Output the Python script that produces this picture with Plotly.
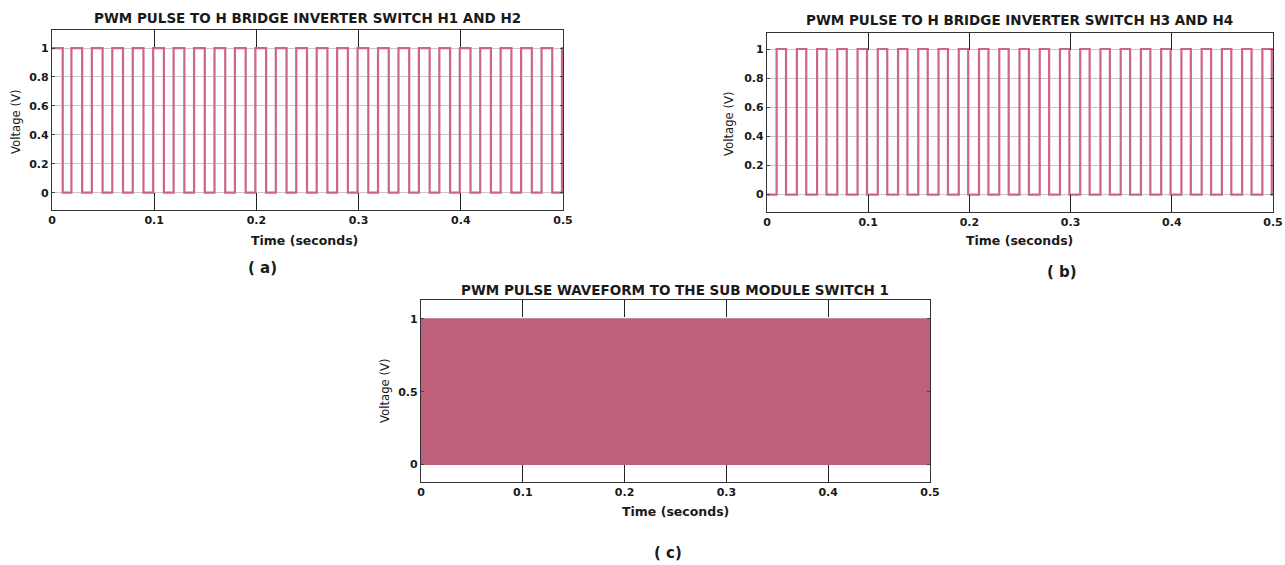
import plotly.graph_objects as go

W, H = 1285, 565

# ---------------- data ----------------
time_ticks = [0, 0.1, 0.2, 0.3, 0.4, 0.5]
time_tick_labels = ["0", "0.1", "0.2", "0.3", "0.4", "0.5"]
volt_ticks_ab = [0, 0.2, 0.4, 0.6, 0.8, 1]
volt_tick_labels_ab = ["0", "0.2", "0.4", "0.6", "0.8", "1"]
volt_ticks_c = [0, 0.5, 1]
volt_tick_labels_c = ["0", "0.5", "1"]

# switch H1/H2: start and end times of each high pulse (s)
a_rise = [0.0, 0.019, 0.039, 0.059, 0.079, 0.099, 0.119, 0.139, 0.159, 0.179, 0.199,
          0.219, 0.239, 0.259, 0.279, 0.299, 0.319, 0.339, 0.359, 0.379, 0.399,
          0.419, 0.439, 0.459, 0.479, 0.499]
a_fall = [0.0105, 0.0295, 0.0495, 0.0695, 0.0895, 0.1095, 0.1295, 0.1495, 0.1695, 0.1895, 0.2095,
          0.2295, 0.2495, 0.2695, 0.2895, 0.3095, 0.3295, 0.3495, 0.3695, 0.3895, 0.4095,
          0.4295, 0.4495, 0.4695, 0.4895, 0.5]

# switch H3/H4
b_rise = [0.0095, 0.0295, 0.0495, 0.0695, 0.0895, 0.1095, 0.1295, 0.1495, 0.1695, 0.1895,
          0.2095, 0.2295, 0.2495, 0.2695, 0.2895, 0.3095, 0.3295, 0.3495, 0.3695, 0.3895,
          0.4095, 0.4295, 0.4495, 0.4695, 0.4895]
b_fall = [0.0188, 0.0388, 0.0588, 0.0788, 0.0988, 0.1188, 0.1388, 0.1588, 0.1788, 0.1988,
          0.2188, 0.2388, 0.2588, 0.2788, 0.2988, 0.3188, 0.3388, 0.3588, 0.3788, 0.3988,
          0.4188, 0.4388, 0.4588, 0.4788, 0.4988]

# sub module switch 1: dense PWM fills the band between 0 and 1
c_time = [0.0, 0.5]
c_low = [0.0, 0.0]
c_high = [1.0, 1.0]

LINE = "#CC6589"
FILL = "#BE607B"
TXT = "#1a1a1a"
FONT = "DejaVu Sans, Verdana, sans-serif"


def pulses(rise, fall, t_end=0.5):
    xs, ys = [], []
    if rise[0] > 0:
        xs += [0.0]
        ys += [0.0]
    for r, f in zip(rise, fall):
        xs += [r, r, f, f]
        ys += [0.0, 1.0, 1.0, 0.0] if r > 0 else [1.0, 1.0, 1.0, 0.0]
    if xs[-1] < t_end:
        xs.append(t_end)
        ys.append(ys[-1])
    return xs, ys


def px_x(p):
    return p / W


def px_y(p):
    return 1 - p / H


fig = go.Figure()

xa, ya = pulses(a_rise, a_fall)
xb, yb = pulses(b_rise, b_fall)

fig.add_trace(go.Scatter(x=xa, y=ya, mode="lines", line=dict(color=LINE, width=2.2),
                         xaxis="x", yaxis="y", showlegend=False))
fig.add_trace(go.Scatter(x=xb, y=yb, mode="lines", line=dict(color=LINE, width=2.2),
                         xaxis="x2", yaxis="y2", showlegend=False))
fig.add_trace(go.Scatter(x=c_time, y=c_low, mode="lines", line=dict(color=FILL, width=1),
                         xaxis="x3", yaxis="y3", showlegend=False))
fig.add_trace(go.Scatter(x=c_time, y=c_high, mode="lines", line=dict(color=FILL, width=1),
                         fill="tonexty", fillcolor=FILL,
                         xaxis="x3", yaxis="y3", showlegend=False))

tickfont = dict(family=FONT, size=11, color=TXT, weight="bold")


def xaxis(dom, anchor):
    return dict(domain=dom, anchor=anchor, range=[0, 0.5], tickvals=time_ticks,
                ticktext=time_tick_labels, ticks="inside", ticklen=17, tickcolor="#222",
                tickwidth=1, showline=True, linecolor="#333", linewidth=1.3, mirror="ticks",
                showgrid=False, zeroline=False, tickfont=tickfont, automargin=False)


def yaxis(dom, anchor, rng, tv, tt):
    return dict(domain=dom, anchor=anchor, range=rng, tickvals=tv, ticktext=tt,
                ticks="inside", ticklen=3, tickcolor="#444", showline=True,
                linecolor="#333", linewidth=1.3, mirror="ticks", showgrid=True,
                gridcolor="#c8c8c8", gridwidth=1, zeroline=False, tickfont=tickfont,
                automargin=False)


fig.update_layout(
    width=W, height=H, margin=dict(l=0, r=0, t=0, b=0, autoexpand=False),
    paper_bgcolor="white", plot_bgcolor="white",
    xaxis=xaxis([px_x(52), px_x(563)], "y"),
    yaxis=yaxis([px_y(210), px_y(30)], "x", [-0.12, 1.125], volt_ticks_ab, volt_tick_labels_ab),
    xaxis2=xaxis([px_x(767), px_x(1273)], "y2"),
    yaxis2=yaxis([px_y(212), px_y(33)], "x2", [-0.12, 1.11], volt_ticks_ab, volt_tick_labels_ab),
    xaxis3=xaxis([px_x(421), px_x(930)], "y3"),
    yaxis3=yaxis([px_y(482), px_y(300)], "x3", [-0.12, 1.13], volt_ticks_c, volt_tick_labels_c),
)

ann_font = dict(family=FONT, size=13.5, color=TXT, weight="bold")
lab_font = dict(family=FONT, size=12.5, color=TXT, weight="bold")
ylab_font = dict(family="Liberation Sans Narrow, DejaVu Sans Condensed, sans-serif", size=13, color=TXT)
panel_font = dict(family=FONT, size=15, color=TXT, weight="bold")

texts = [
    ("PWM PULSE TO H BRIDGE INVERTER SWITCH H1 AND H2", 307, 18, ann_font, 0),
    ("PWM PULSE TO H BRIDGE INVERTER SWITCH H3 AND H4", 1020, 20, ann_font, 0),
    ("PWM PULSE WAVEFORM TO THE SUB MODULE SWITCH 1", 675, 290, ann_font, 0),
    ("Time (seconds)", 304, 240, lab_font, 0),
    ("Time (seconds)", 1020, 241, lab_font, 0),
    ("Time (seconds)", 675, 511, lab_font, 0),
    ("Voltage (V)", 15, 122, ylab_font, -90),
    ("Voltage (V)", 729, 124, ylab_font, -90),
    ("Voltage (V)", 384, 391, ylab_font, -90),
    ("( a)", 262, 268, panel_font, 0),
    ("( b)", 1062, 272, panel_font, 0),
    ("( c)", 668, 553, panel_font, 0),
]
for t, x, y, f, ang in texts:
    fig.add_annotation(text=t, x=px_x(x), y=px_y(y), xref="paper", yref="paper",
                       showarrow=False, font=f, textangle=ang,
                       xanchor="center", yanchor="middle")

fig.write_html("out.html", config={"displayModeBar": False},
               post_script="document.body.style.margin='0';document.body.style.overflow='hidden';")
